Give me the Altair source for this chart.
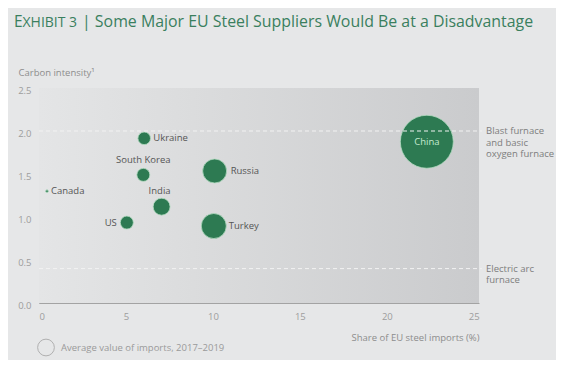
import altair as alt
import pandas as pd

# ---- data ----
countries = ["China", "Turkey", "Russia", "India", "US", "South Korea", "Ukraine", "Canada"]
share_of_imports = [22.3, 10.05, 10.1, 7.05, 5.05, 6.0, 6.05, 0.46]      # %
carbon_intensity = [1.875, 0.895, 1.535, 1.12, 0.935, 1.49, 1.915, 1.30]
avg_import_value = [3.9, 0.87, 0.80, 0.40, 0.235, 0.235, 0.22, 0.01]   # relative size

ref_levels = [2.0, 0.4]
ref_labels = ["Blast furnace\nand basic\noxygen furnace", "Electric arc\nfurnace"]

x_ticks = [0, 5, 10, 15, 20, 25]
y_ticks = [0.0, 0.5, 1.0, 1.5, 2.0, 2.5]

title_parts = ["E", "XHIBIT 3", "| Some Major EU Steel Suppliers Would Be at a Disadvantage"]
legend_label = "Average value of imports, 2017\u20132019"

df = pd.DataFrame({
    "country": countries,
    "share": share_of_imports,
    "intensity": carbon_intensity,
    "value": avg_import_value,
})
refs = pd.DataFrame({"level": ref_levels, "label": ref_labels})
one = pd.DataFrame({"k": [0]})

W, H = 440, 215
FONT = "Open Sans"
GREEN = "#2d7a52"
TITLE_GREEN = "#3a7f5e"

xs = alt.Scale(domain=[0, 25.3], nice=False, zero=True)
ys = alt.Scale(domain=[0, 2.5], nice=False)

xenc = alt.X("share:Q", scale=xs, axis=alt.Axis(
    values=x_ticks, format="d", ticks=False, grid=False,
    domainColor="#a3a3a3", labelColor="#9d9d9d", labelFontSize=9.5, labelFont=FONT,
    labelPadding=8,
    title="Share of EU steel imports (%)", titleFont=FONT, titleFontSize=9.5,
    titleFontWeight="normal", titleColor="#8d8d8d", titleAnchor="end",
    titleAlign="right", titleX=W, titleY=34, titleBaseline="middle"))
yenc = alt.Y("intensity:Q", scale=ys, axis=alt.Axis(
    values=y_ticks, format=".1f", ticks=False, grid=False,
    domainColor="#a3a3a3", labelColor="#9d9d9d", labelFontSize=9.5, labelFont=FONT,
    labelPadding=8, labelOffset=2,
    title="Carbon intensity\u00b9", titleFont=FONT, titleFontSize=9.5,
    titleFontWeight="normal", titleColor="#8d8d8d", titleAngle=0,
    titleAlign="left", titleBaseline="middle", titleX=-21, titleY=-16))

bg = alt.Chart(one).mark_rect(
    fill=alt.LinearGradient(
        gradient="linear", x1=0, x2=1, y1=0, y2=0,
        stops=[alt.GradientStop(color="#e4e5e6", offset=0),
               alt.GradientStop(color="#dbdcdd", offset=0.35),
               alt.GradientStop(color="#cacbcd", offset=1)])
).encode(x=alt.value(0), x2=alt.value(W), y=alt.value(0), y2=alt.value(H))

bubbles = alt.Chart(df).mark_circle(
    color=GREEN, opacity=1, stroke="#b4dcc2", strokeWidth=0.8
).encode(
    x=xenc, y=yenc,
    size=alt.Size("value:Q", scale=alt.Scale(domain=[0, 3.9], range=[0, 2809]), legend=None),
)

rules = alt.Chart(refs).mark_rule(
    color="#f2f2f2", strokeDash=[4, 3], strokeWidth=1
).encode(y=alt.Y("level:Q", scale=ys), x=alt.value(0), x2=alt.value(W + 3))

ref_text = alt.Chart(refs).mark_text(
    align="left", baseline="middle", font=FONT, fontSize=9.5, color="#7d7d7d",
    lineBreak="\n", lineHeight=11.7
).encode(y=alt.Y("level:Q", scale=ys), x=alt.value(W + 7), text="label:N")

label_style = {
    "China": dict(align="center", dx=0, dy=0, color="#c4ebd0"),
    "Turkey": dict(align="left", dx=15, dy=0),
    "Russia": dict(align="left", dx=16, dy=0),
    "India": dict(align="center", dx=-2, dy=-16),
    "US": dict(align="right", dx=-10, dy=0),
    "South Korea": dict(align="center", dx=0, dy=-15),
    "Ukraine": dict(align="left", dx=9, dy=0),
    "Canada": dict(align="left", dx=4, dy=0),
}
label_layers = []
for name, st in label_style.items():
    label_layers.append(
        alt.Chart(df).transform_filter(alt.datum.country == name).mark_text(
            align=st["align"], baseline="middle", dx=st["dx"], dy=st["dy"],
            font=FONT, fontSize=9.5, color=st.get("color", "#555555")
        ).encode(x=alt.X("share:Q", scale=xs), y=alt.Y("intensity:Q", scale=ys), text="country:N")
    )

title_layers = [
    alt.Chart(one).mark_text(align="left", baseline="alphabetic", font=FONT,
                             fontSize=15.5, color=TITLE_GREEN, text=title_parts[0]
                             ).encode(x=alt.value(-25), y=alt.value(-61)),
    alt.Chart(one).mark_text(align="left", baseline="alphabetic", font=FONT,
                             fontSize=14, color=TITLE_GREEN, text=title_parts[1]
                             ).encode(x=alt.value(-16.5), y=alt.value(-61)),
    alt.Chart(one).mark_text(align="left", baseline="alphabetic", font=FONT,
                             fontSize=15.9, color=TITLE_GREEN, text=title_parts[2]
                             ).encode(x=alt.value(43), y=alt.value(-61)),
]

legend_circle = alt.Chart(one).mark_point(
    shape="circle", filled=False, size=280, color="#b0b0b0", strokeWidth=1, opacity=1
).encode(x=alt.value(7), y=alt.value(259.5))
legend_text = alt.Chart(one).mark_text(
    align="left", baseline="middle", font=FONT, fontSize=9.5, color="#9a9a9a", text=legend_label
).encode(x=alt.value(22), y=alt.value(259.5))

chart = alt.layer(
    bg, bubbles, rules, ref_text, *label_layers, *title_layers, legend_circle, legend_text
).properties(
    width=W, height=H,
    autosize=alt.AutoSizeParams(type="none"),
    padding={"left": 31, "top": 80, "right": 77, "bottom": 57},
    background="#e6e7e8",
).configure_view(stroke=None)

chart.save("out.html", embed_options={"renderer": "svg", "actions": False})
